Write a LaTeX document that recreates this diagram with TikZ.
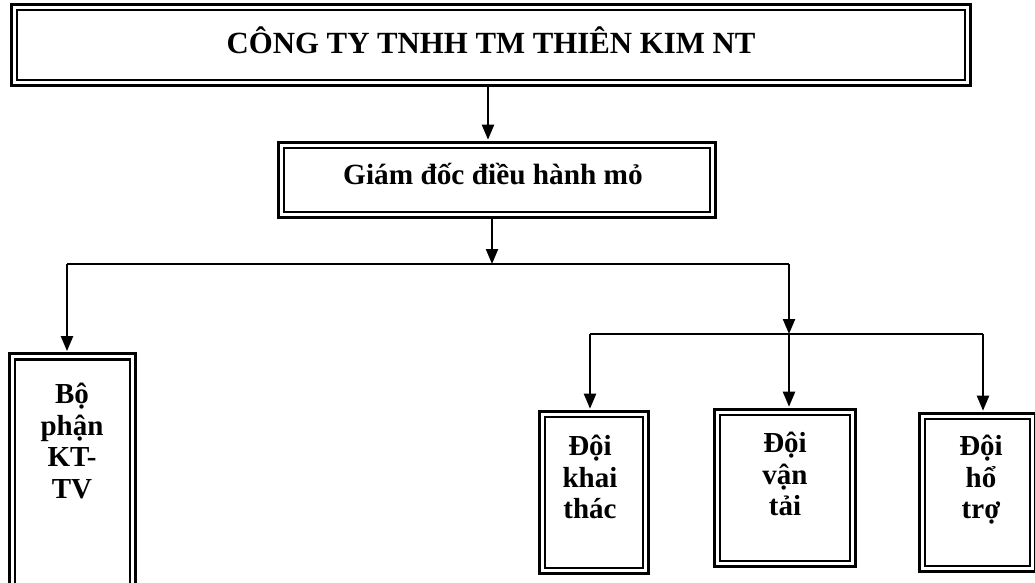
\documentclass[tikz,border=0pt]{standalone}
\usepackage{fontspec}
\setmainfont{Liberation Serif}
\usetikzlibrary{arrows.meta}
\begin{document}
\begin{tikzpicture}[x=1pt,y=-1pt,
  dbox/.style={draw, double, line width=2.6pt, double distance=3pt, inner sep=0pt},
  big/.style={font=\bfseries\fontsize{30.8}{32}\selectfont, inner sep=0pt, anchor=base},
  mid/.style={font=\bfseries\fontsize{29.3}{31}\selectfont, inner sep=0pt, anchor=base},
  lbl/.style={font=\bfseries\fontsize{29}{31.5}\selectfont, align=center, inner sep=0pt, anchor=north},
  arr/.style={line width=2.2pt, -{Triangle[length=15pt,width=12pt]}},
  ln/.style={line width=2.2pt}]
\useasboundingbox (0,0) rectangle (1035,582);
\clip (0,0) rectangle (1035,582);

% boxes (centre, width, height of the centre line of the double border)
\node[dbox, minimum width=953.8pt, minimum height=75.8pt] (title) at (491,45) {};
\node[dbox, minimum width=431.8pt, minimum height=69.8pt] (gd) at (497,180) {};
\node[dbox, minimum width=120.8pt, minimum height=263pt] (kttv) at (72.5,488) {};
\node[dbox, minimum width=103.8pt, minimum height=156.8pt] (khai) at (594,492.5) {};
\node[dbox, minimum width=135.8pt, minimum height=151.8pt] (van) at (785,488) {};
\node[dbox, minimum width=110.8pt, minimum height=152.8pt] (hotro) at (977.5,492.5) {};

% texts
\node[big] (ttitle) at (491,53) {CÔNG TY TNHH TM THIÊN KIM NT};
\node[mid] (tgd) at (493,184) {Giám đốc điều hành mỏ};
\node[lbl] (tkttv) at (72,383) {Bộ\\phận\\KT-\\TV};
\node[lbl] (tkhai) at (590,435) {Đội\\khai\\thác};
\node[lbl] (tvan) at (785,432) {Đội\\vận\\tải};
\node[lbl] (thotro) at (981,435) {Đội\\hổ\\trợ};

% junction coordinates
\coordinate (x0) at (488,0);
\coordinate (x1) at (492,0);
\coordinate (jA) at (492,264);
\coordinate (jL) at (67,264);
\coordinate (jR) at (789,264);
\coordinate (jB) at (789,334);
\coordinate (kL) at (590,334);
\coordinate (kR) at (983,334);

% connectors
\draw[arr, shorten >=4.1pt] (title.south -| x0) -- (gd.north -| x0);
\draw[arr] (gd.south -| x1) -- (jA);
\draw[ln] (jL) -- (jR);
\draw[arr, shorten >=4.1pt] (jL) -- (kttv.north -| jL);
\draw[arr] (jR) -- (jB);
\draw[ln] (kL) -- (kR);
\draw[arr, shorten >=4.1pt] (kL) -- (khai.north -| kL);
\draw[arr, shorten >=4.1pt] (jB) -- (van.north -| jB);
\draw[arr, shorten >=4.1pt] (kR) -- (hotro.north -| kR);
\end{tikzpicture}
\end{document}
